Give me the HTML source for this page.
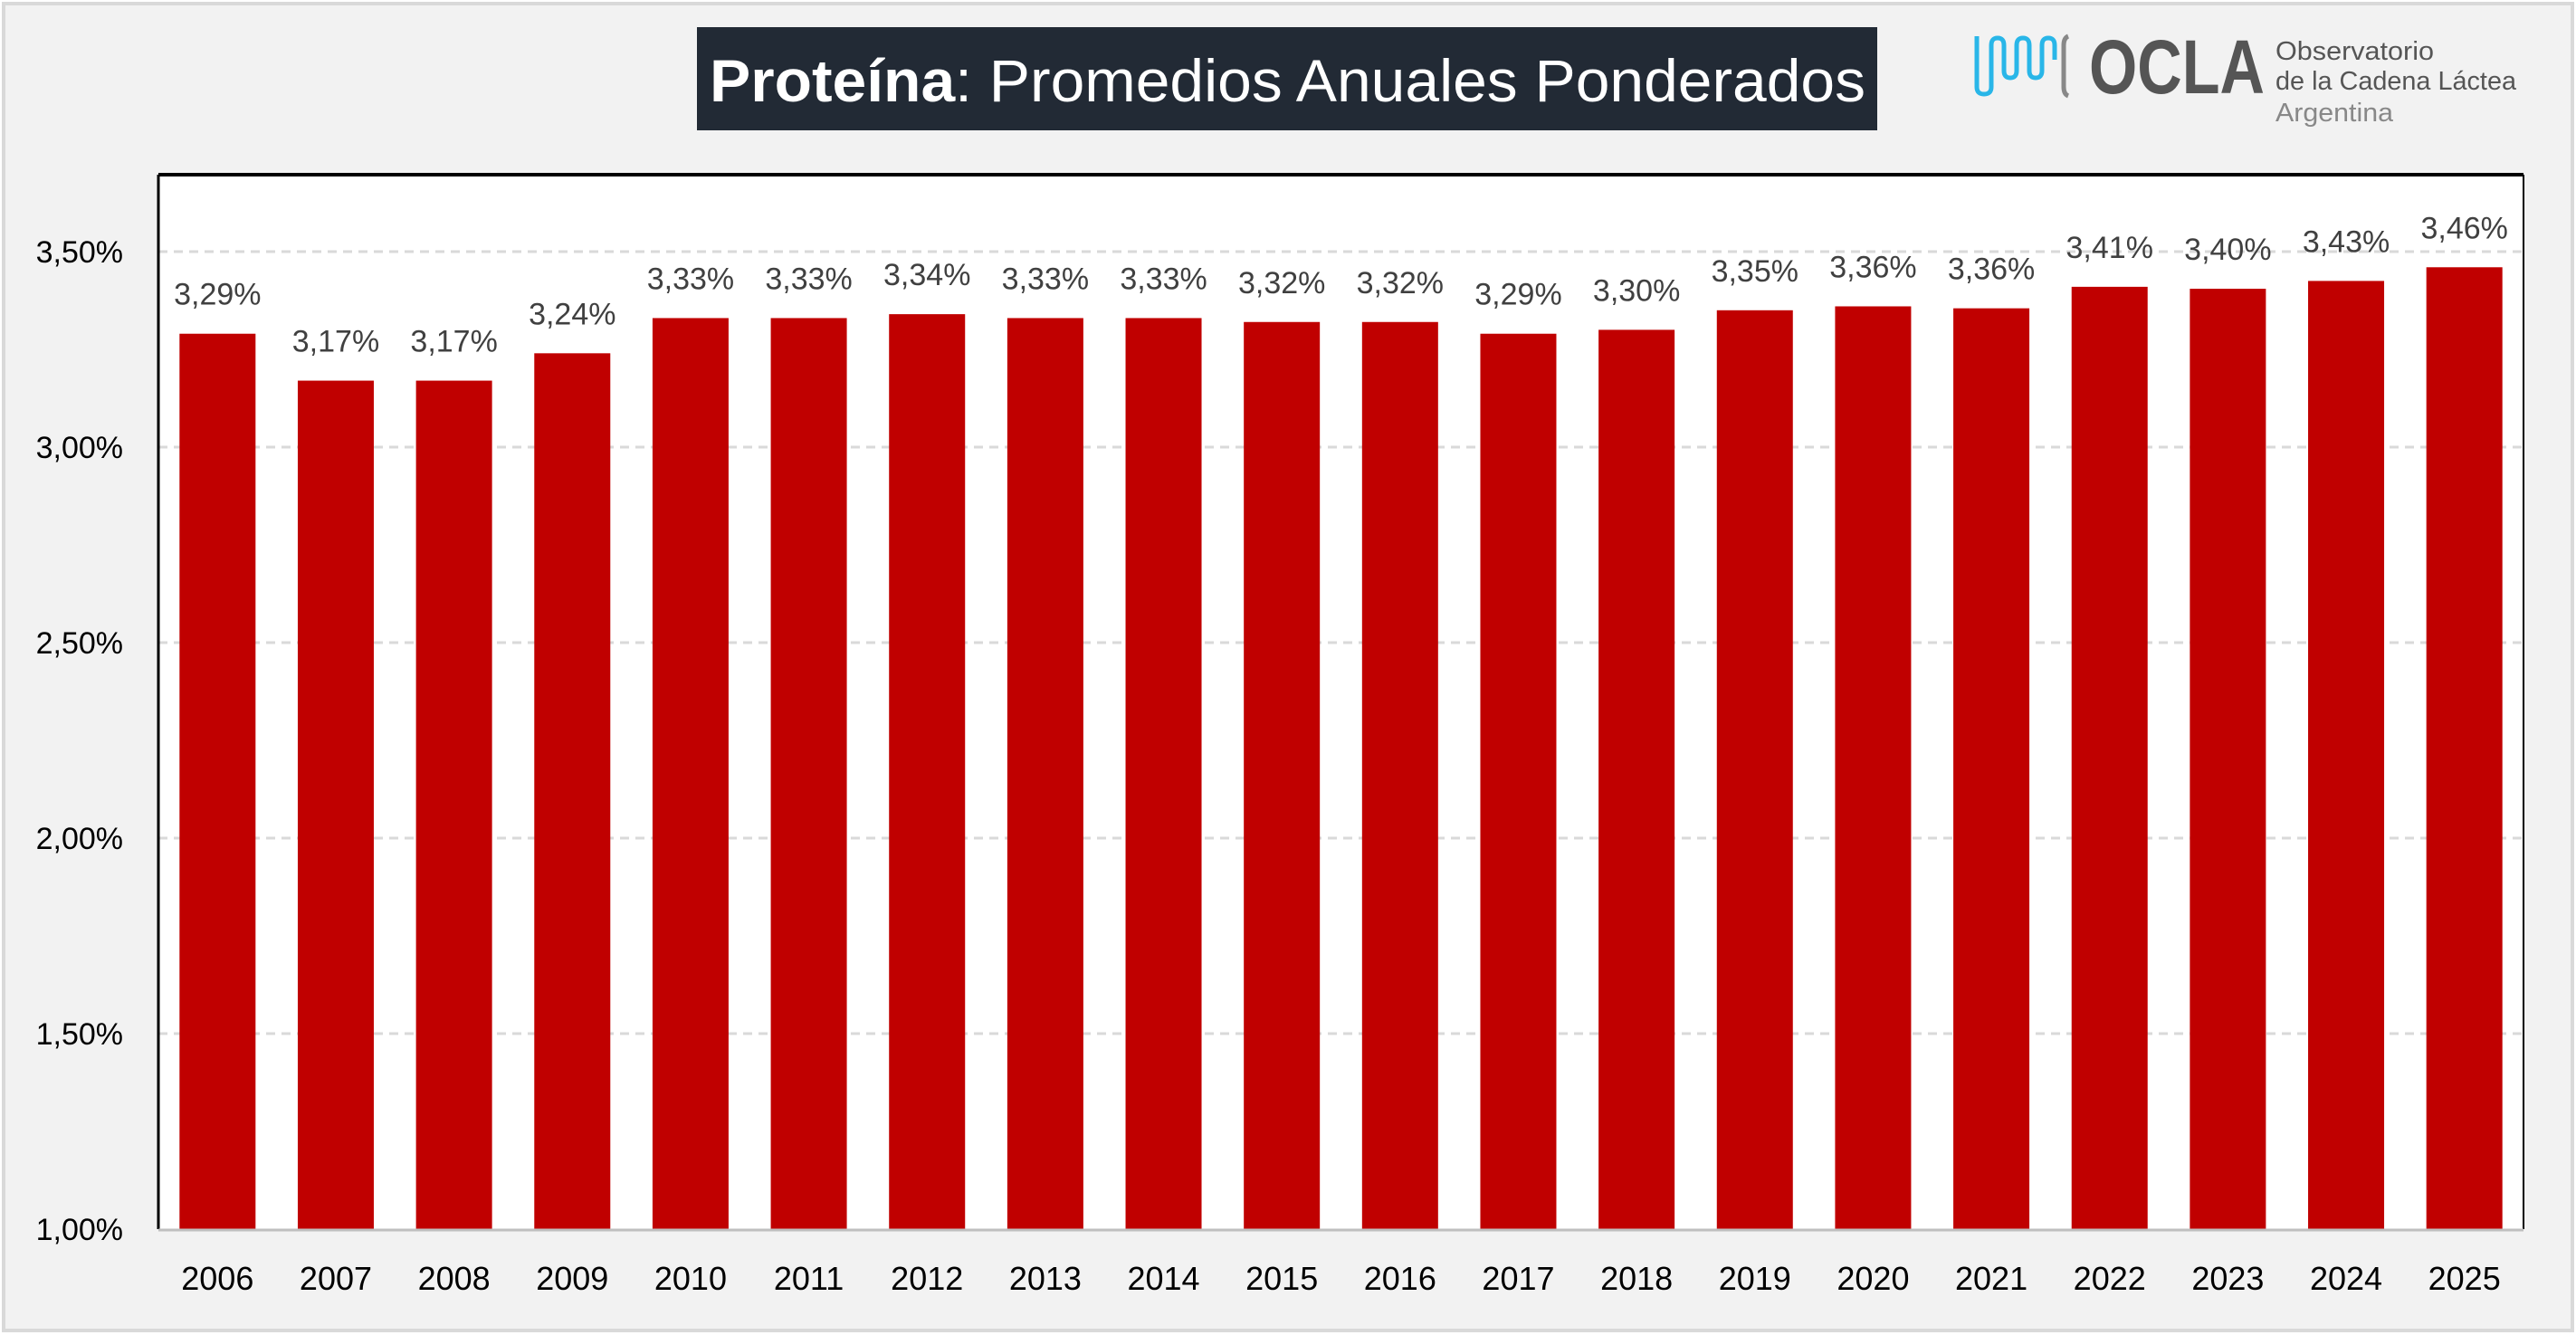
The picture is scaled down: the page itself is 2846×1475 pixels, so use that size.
<!DOCTYPE html>
<html><head><meta charset="utf-8"><style>
html,body{margin:0;padding:0;background:#fff}
svg{display:block}
</style></head><body>
<svg id="chart" width="2846" height="1475" xmlns="http://www.w3.org/2000/svg" font-family="'Liberation Sans', sans-serif">
<rect x="4" y="4" width="2838" height="1466" fill="#f2f2f2" stroke="#d9d9d9" stroke-width="4"/>
<g>
<rect x="770" y="30" width="1304" height="114" fill="#222a35"/>
<text x="784" y="112" font-size="66" fill="#fff" textLength="1277" lengthAdjust="spacingAndGlyphs"><tspan font-weight="bold">Proteína</tspan>: Promedios Anuales Ponderados</text>
</g>
<g>
<path d="M2184 40 V96 Q2184 104 2192 104 Q2200 104 2200 96 V50 Q2200 42 2207 42 Q2214 42 2214 50 V78 Q2214 86 2221 86 Q2228 86 2228 78 V50 Q2228 42 2235 42 Q2242 42 2242 50 V78 Q2242 86 2249 86 Q2256 86 2256 78 V50 Q2256 42 2263 42 Q2270 42 2270 50 V66" fill="none" stroke="#29b6e8" stroke-width="5"/>
<path d="M2285 40 Q2280 42 2280 50 V96 Q2280 104 2285 106" fill="none" stroke="#888" stroke-width="5"/>
<text x="2308" y="103" font-size="84" font-weight="bold" fill="#555" textLength="194" lengthAdjust="spacingAndGlyphs">OCLA</text>
<text x="2514" y="66" font-size="29" fill="#555" textLength="175" lengthAdjust="spacingAndGlyphs">Observatorio</text>
<text x="2514" y="99" font-size="29" fill="#555" textLength="266" lengthAdjust="spacingAndGlyphs">de la Cadena Láctea</text>
<text x="2514" y="134" font-size="29" fill="#888" textLength="130" lengthAdjust="spacingAndGlyphs">Argentina</text>
</g>
<rect x="175" y="193" width="2613" height="1165" fill="#fff"/>
<g id="grid"></g>
<g id="bars"></g>
<g id="labels"></g>
<g id="yticks"></g>
<g id="xticks"></g>
<line x1="175" y1="193" x2="2788" y2="193" stroke="#000" stroke-width="4"/>
<line x1="2788" y1="193" x2="2788" y2="1358" stroke="#000" stroke-width="2"/>
<line x1="175" y1="193" x2="175" y2="1358" stroke="#000" stroke-width="3"/>
<line x1="175" y1="1359" x2="2788" y2="1359" stroke="#bfbfbf" stroke-width="3"/>
</svg>
<script>
const categories=["2006","2007","2008","2009","2010","2011","2012","2013","2014","2015","2016","2017","2018","2019","2020","2021","2022","2023","2024","2025"];
const values=[3.29,3.17,3.17,3.24,3.33,3.33,3.34,3.33,3.33,3.32,3.32,3.29,3.30,3.35,3.36,3.355,3.41,3.405,3.425,3.46];
const valueLabels=["3,29%","3,17%","3,17%","3,24%","3,33%","3,33%","3,34%","3,33%","3,33%","3,32%","3,32%","3,29%","3,30%","3,35%","3,36%","3,36%","3,41%","3,40%","3,43%","3,46%"];
const yTicks=[1.0,1.5,2.0,2.5,3.0,3.5];
const yTickLabels=["1,00%","1,50%","2,00%","2,50%","3,00%","3,50%"];
const NS="http://www.w3.org/2000/svg";
const L=175,R=2788,Y0=1358,Y1=278;
const y=v=>Y0-(v-1.0)/(3.5-1.0)*(Y0-Y1);
const band=(R-L)/categories.length;
const xc=i=>L+band*(i+0.5);
const bw=84;
function mk(t,a,p){const e=document.createElementNS(NS,t);for(const k in a)e.setAttribute(k,a[k]);p.appendChild(e);return e;}
const g=document.getElementById('grid'),b=document.getElementById('bars'),lb=document.getElementById('labels'),yt=document.getElementById('yticks'),xt=document.getElementById('xticks');
yTicks.forEach((v,i)=>{
  if(v>1.0){const ln=mk('line',{x1:L,x2:R,y1:y(v),y2:y(v),stroke:'#d9d9d9','stroke-width':3,'stroke-dasharray':'10,7'},g);
  
  }
  const t=mk('text',{x:136,y:y(v)+12,'font-size':34,'text-anchor':'end',fill:'#000'},yt);
  t.textContent=yTickLabels[i];
  
  
});
categories.forEach((c,i)=>{
  const r=mk('rect',{x:xc(i)-bw/2,y:y(values[i]),width:bw,height:Y0-y(values[i]),fill:'#c00000'},b);
  
  
  const t=mk('text',{x:xc(i),y:y(values[i])-32,'font-size':34,'text-anchor':'middle',fill:'#404040'},lb);
  t.textContent=valueLabels[i];
  
  
  const xl=mk('text',{x:xc(i),y:1425,'font-size':36,'text-anchor':'middle',fill:'#000'},xt);
  xl.textContent=c;
  
  
});
</script>
</body></html>
